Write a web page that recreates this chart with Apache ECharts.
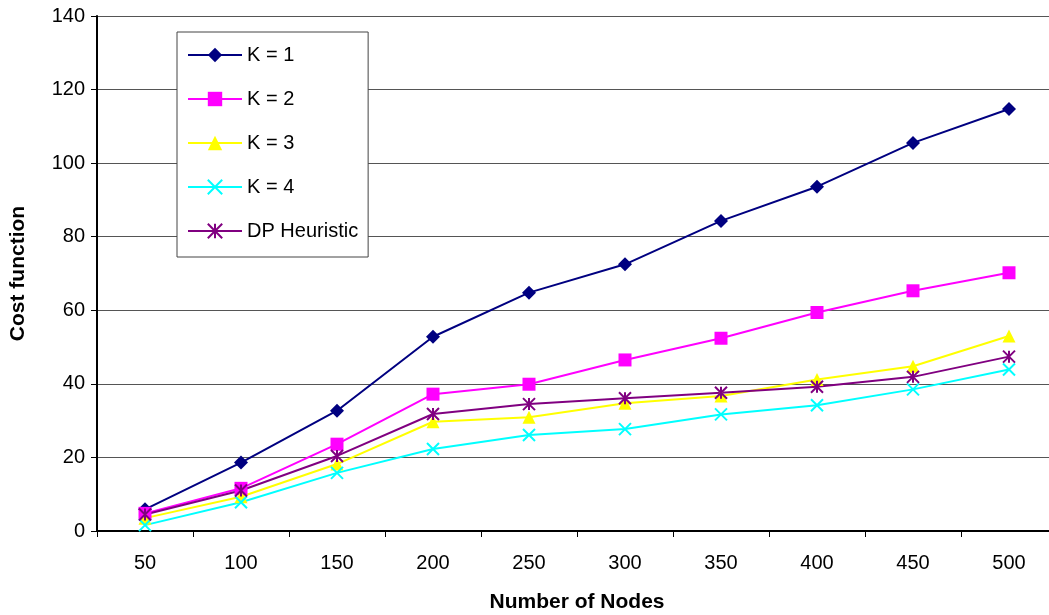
<!DOCTYPE html>
<html>
<head>
<meta charset="utf-8">
<script src="https://cdn.jsdelivr.net/npm/echarts@6/dist/echarts.min.js"></script>
<style>
  html, body { margin: 0; padding: 0; background: #fff; overflow: hidden; }
  /* Diagramm ist rechts leicht abgeschnitten wie im Original */
  #chart { width: 1057px; height: 615px; }
</style>
</head>
<body>
<div id="chart"></div>
<script>
// Werte
const nodes = ['50', '100', '150', '200', '250', '300', '350', '400', '450', '500'];
const k1 = [5.9, 18.6, 32.7, 52.8, 64.8, 72.5, 84.3, 93.6, 105.5, 114.7];
const k2 = [4.8, 11.6, 23.6, 37.2, 39.9, 46.5, 52.4, 59.4, 65.3, 70.2];
const k3 = [3.5, 9.3, 18.2, 29.7, 30.9, 34.7, 36.7, 41.2, 44.8, 53.0];
const k4 = [1.6, 7.8, 15.8, 22.3, 26.1, 27.7, 31.7, 34.2, 38.5, 43.9];
const dp = [4.5, 11.0, 20.4, 31.8, 34.5, 36.1, 37.6, 39.2, 41.9, 47.4];

const font = 'Liberation Sans, Arial, sans-serif';
const crossPath = 'path://M0,0L10,10M10,0L0,10';
const starPath = 'path://M5,0L5,10M0,0L10,10M10,0L0,10';

function makeSeries(name, data, color, symbol, size, stroked) {
  return {
    name: name,
    type: 'line',
    data: data,
    symbol: symbol,
    symbolSize: size,
    showAllSymbol: true,
    lineStyle: { color: color, width: 2 },
    itemStyle: stroked
      ? { color: color, borderColor: color, borderWidth: 2 }
      : { color: color },
    emphasis: { disabled: true },
    z: 3
  };
}

const chart = echarts.init(document.getElementById('chart'));

const option = {
  animation: false,
  backgroundColor: '#fff',
  textStyle: { fontFamily: font },
  grid: { left: 97, top: 16, right: 0, bottom: 84, outerBoundsMode: 'none' },
  legend: {
    orient: 'vertical',
    left: 177,
    top: 32,
    padding: [13, 10, 16, 10],
    itemGap: 24,
    itemWidth: 54,
    itemHeight: 18,
    backgroundColor: '#fff',
    borderColor: '#444',
    borderWidth: 1,
    textStyle: { fontFamily: font, fontSize: 20, color: '#000' },
    data: ['K = 1', 'K = 2', 'K = 3', 'K = 4', 'DP Heuristic']
  },
  xAxis: {
    type: 'category',
    data: nodes,
    boundaryGap: true,
    name: 'Number of Nodes',
    nameLocation: 'middle',
    nameGap: 61,
    nameTextStyle: { fontFamily: font, fontSize: 21, fontWeight: 'bold', color: '#000' },
    axisLine: { lineStyle: { color: '#000', width: 2 } },
    axisTick: { show: true, length: 6, lineStyle: { color: '#000', width: 1 } },
    axisLabel: { margin: 22, fontSize: 20, color: '#000', fontFamily: font },
    splitLine: { show: false }
  },
  yAxis: {
    type: 'value',
    min: 0,
    max: 140,
    interval: 20,
    name: 'Cost function',
    nameLocation: 'middle',
    nameGap: 68,
    nameTextStyle: { fontFamily: font, fontSize: 21, fontWeight: 'bold', color: '#000' },
    axisLine: { show: true, lineStyle: { color: '#000', width: 2 } },
    axisTick: { show: true, length: 6, lineStyle: { color: '#000', width: 1 } },
    axisLabel: { margin: 12, fontSize: 20, color: '#000', fontFamily: font },
    splitLine: { show: true, lineStyle: { color: '#555', width: 1 } }
  },
  series: [
    makeSeries('K = 1', k1, '#000080', 'diamond', 14, false),
    makeSeries('K = 2', k2, '#FF00FF', 'rect', 13, false),
    makeSeries('K = 3', k3, '#FFFF00', 'triangle', 13, false),
    makeSeries('K = 4', k4, '#00FFFF', crossPath, 12, true),
    makeSeries('DP Heuristic', dp, '#800080', starPath, 12, true)
  ]
};

chart.setOption(option);

window.addEventListener('resize', () => {
  chart.resize();
});
</script>
</body>
</html>
